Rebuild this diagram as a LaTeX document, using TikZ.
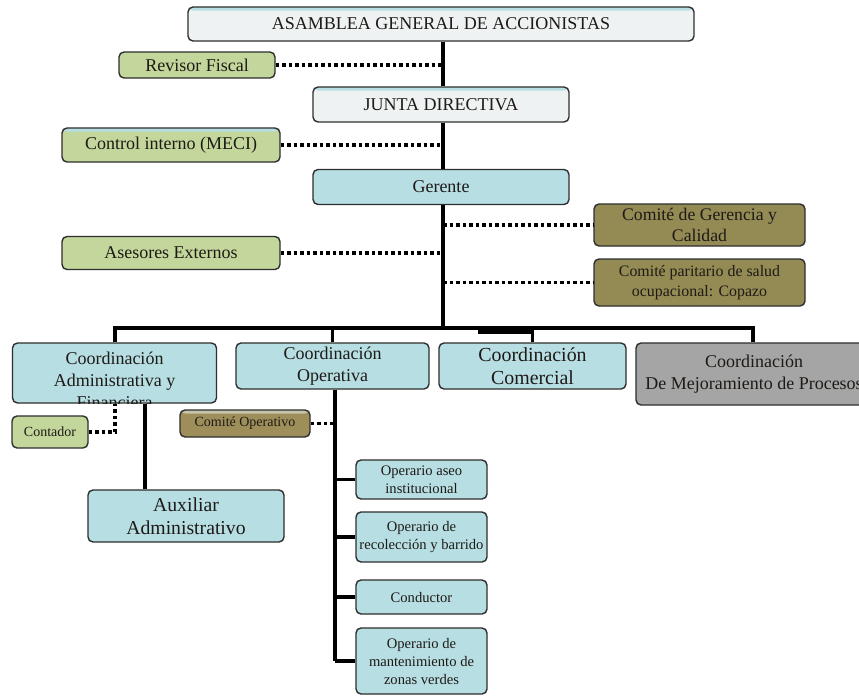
\documentclass[tikz,border=0pt]{standalone}
\usepackage{fontspec}
\setmainfont{Liberation Serif}
\definecolor{blueF}{HTML}{B7DEE3}
\definecolor{greenF}{HTML}{C3D69B}
\definecolor{oliveF}{HTML}{948A54}
\definecolor{oliveL}{HTML}{9E8F5A}
\definecolor{grayF}{HTML}{A5A5A5}
\definecolor{lightF}{HTML}{EFF2F3}
\definecolor{topB}{HTML}{B7DEE3}
\definecolor{txt}{HTML}{1E1A16}
\definecolor{edge}{HTML}{2E2E2E}
\tikzset{
  box/.style={draw=edge, line width=1.4pt, rounded corners=5pt, inner sep=0pt,
    align=center, text=txt, font=\fontsize{18}{21}\selectfont},
  bluebox/.style={box, fill=blueF},
  greenbox/.style={box, fill=greenF},
  olivebox/.style={box, fill=oliveF},
  lightbox/.style={box, fill=lightF},
  graybox/.style={box, fill=grayF},
  topstrip/.style={path picture={\fill[#1] (path picture bounding box.north west) rectangle ([yshift=-3.5pt]path picture bounding box.north east);}},
  solidline/.style={draw=black, line width=3.5pt},
  dotline/.style={draw=black, line width=3.5pt, dash pattern=on 3.5pt off 3pt},
  small/.style={font=\fontsize{14.6}{18}\selectfont},
}
\begin{document}
\begin{tikzpicture}[x=1pt,y=-1pt]
\clip (0,0) rectangle (859,696);
\fill[white] (0,0) rectangle (859,696);
\coordinate (busL) at (115,328);
\coordinate (busR) at (753,328);
\coordinate (busM) at (443,328);
\node[lightbox, topstrip=topB, minimum width=506pt, minimum height=34pt] (asamblea) at (441,24) {ASAMBLEA GENERAL DE ACCIONISTAS};
\node[lightbox, topstrip=topB, minimum width=256pt, minimum height=35pt] (junta) at (441,104.5) {JUNTA DIRECTIVA};
\node[bluebox, minimum width=256pt, minimum height=35pt] (gerente) at (441,187) {Gerente};
\node[greenbox, minimum width=156pt, minimum height=26pt] (revisor) at (197,65) {Revisor Fiscal};
\node[greenbox, topstrip=topB, minimum width=218pt, minimum height=34pt] (control) at (171,145) {Control interno (MECI)};
\node[greenbox, minimum width=218pt, minimum height=33pt] (asesores) at (171,253) {Asesores Externos};
\node[olivebox, minimum width=211pt, minimum height=42pt, font=\fontsize{17.7}{21}\selectfont] (cgerencia) at (699.5,225) {Comité de Gerencia y\\Calidad};
\node[olivebox, minimum width=211pt, minimum height=47pt, font=\fontsize{15.9}{19.5}\selectfont] (cparitario) at (699.5,282.5) {Comité paritario de salud\\ocupacional: Copazo};
\node[bluebox, minimum width=204pt, minimum height=60pt] (cadmin) at (114.5,373) {};
\begin{scope}
\clip[rounded corners=5pt] ([shift={(0.7pt,-0.7pt)}]cadmin.north west) rectangle ([shift={(-0.7pt,0.7pt)}]cadmin.south east);
\node[align=center, text=txt, font=\fontsize{18}{22}\selectfont, anchor=north, inner sep=0pt] (cadmintxt) at (114.5,352) {Coordinación\\Administrativa y\\Financiera};
\end{scope}
\node[bluebox, minimum width=193pt, minimum height=46pt, font=\fontsize{18}{22}\selectfont] (coper) at (332.5,366) {Coordinación\\Operativa};
\node[bluebox, minimum width=187pt, minimum height=46pt, font=\fontsize{19.9}{23}\selectfont] (ccomer) at (532.5,366) {Coordinación\\Comercial};
\node[graybox, minimum width=240pt, minimum height=62pt] (cmejora) at (756,374) {};
\node[text=txt, font=\fontsize{18}{22}\selectfont, align=center, anchor=center] (cmejoratxt) at (754,374) {Coordinación\\De Mejoramiento de Procesos};
\node[greenbox, minimum width=76pt, minimum height=32pt, font=\fontsize{14}{16}\selectfont] (contador) at (50,432) {Contador};
\node[box, fill=oliveL, topstrip=lightF!55!oliveF, minimum width=130pt, minimum height=27pt, font=\fontsize{14}{16}\selectfont] (coperativo) at (245,423.5) {Comité Operativo};
\node[bluebox, minimum width=196pt, minimum height=52pt, font=\fontsize{19.7}{23}\selectfont] (auxiliar) at (186,516) {Auxiliar\\Administrativo};
\node[bluebox, small, minimum width=131pt, minimum height=39pt] (op1) at (421.5,479.5) {Operario aseo\\institucional};
\node[bluebox, small, minimum width=131pt, minimum height=50pt] (op2) at (421.5,537) {Operario de\\recolección y barrido};
\node[bluebox, small, minimum width=131pt, minimum height=34pt] (op3) at (421.5,597) {Conductor};
\node[bluebox, small, minimum width=131pt, minimum height=66pt] (op4) at (421.5,661) {Operario de\\mantenimiento de\\zonas verdes};
% connectors
\draw[solidline] (asamblea.south -| busM) -- (junta.north -| busM);
\draw[solidline] (junta.south -| busM) -- (gerente.north -| busM);
\draw[solidline] (gerente.south -| busM) -- (busM);
\draw[solidline, line cap=rect] (busL) -- (busR);
\draw[solidline] (busL) -- (busL |- cadmin.north);
\draw[solidline] (coper.north) -- (coper.north |- busL);
\coordinate (stepL) at (478,332);
\draw[solidline] (stepL) -- (stepL -| ccomer.north) -- (ccomer.north);
\draw[solidline] (busR) -- (busR |- cmejora.north);
\draw[dotline] (revisor.east) -- (revisor.east -| busM);
\draw[dotline] (control.east) -- (control.east -| busM);
\draw[dotline] (asesores.east) -- (asesores.east -| busM);
\draw[dotline] (busM |- cgerencia.west) -- (cgerencia.west);
\draw[dotline] (busM |- cparitario.west) -- (cparitario.west);
\coordinate (cadminV) at (145,0);
\draw[solidline] (cadmin.south -| cadminV) -- (auxiliar.north -| cadminV);
\coordinate (contCorner) at (115,432);
\draw[dotline] (contador.east) -- (contCorner) -- (contCorner |- cadmin.south);
\coordinate (operV) at (335,0);
\draw[solidline] (coper.south -| operV) -- (operV |- op4.west);
\draw[dotline] (coperativo.east) -- (coperativo.east -| operV);
\foreach \o in {op1,op2,op3,op4} \draw[solidline] (operV |- \o.west) -- (\o.west);
\end{tikzpicture}
\end{document}
